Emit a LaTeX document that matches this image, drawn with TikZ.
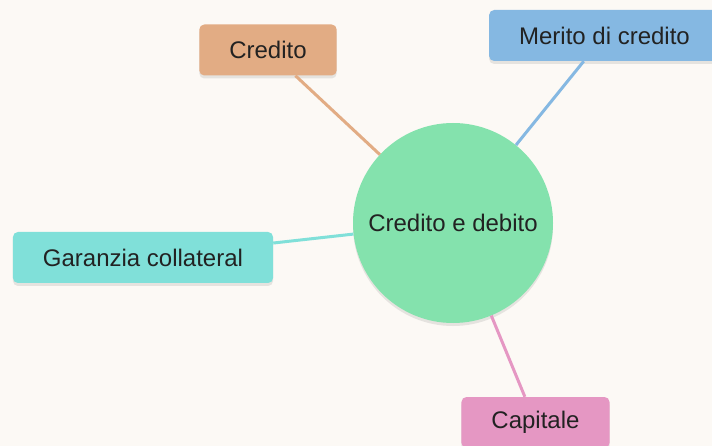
\documentclass[tikz,border=0pt]{standalone}
\usepackage{fontspec}
\setmainfont{Liberation Sans}
\usetikzlibrary{shadows}

\definecolor{bgcol}{HTML}{FCF9F5}
\definecolor{textcol}{HTML}{222222}
\definecolor{hubcol}{HTML}{84E2AD}
\definecolor{credcol}{HTML}{E2AC84}
\definecolor{meritcol}{HTML}{85B8E2}
\definecolor{garcol}{HTML}{80E0D9}
\definecolor{capcol}{HTML}{E597C3}

\begin{document}
\begin{tikzpicture}[
        x=1pt, y=-1pt,
        every node/.style={text=textcol, font=\fontsize{24}{28}\selectfont},
        hub/.style={circle, fill=hubcol, minimum size=200pt, inner sep=0pt,
            drop shadow={opacity=0.18, shadow xshift=0pt, shadow yshift=-3pt}},
        leaf/.style={rectangle, rounded corners=5pt, minimum height=51pt,
            inner xsep=30pt, inner ysep=0pt,
            drop shadow={opacity=0.18, shadow xshift=0pt, shadow yshift=-3pt}},
        link/.style={line width=3pt}
      ]
        \fill[bgcol] (0,0) rectangle (712,446);
        \useasboundingbox (0,0) rectangle (712,446);

        \node[hub] (debito) at (453,223) {Credito e debito};

        \node[leaf, fill=credcol] (credito) at (268,50) {Credito};
        \node[leaf, fill=meritcol] (merito) at (604.5,35.5) {Merito di credito};
        \node[leaf, fill=garcol] (garanzia) at (143,257.5) {Garanzia collateral};
        \node[leaf, fill=capcol] (capitale) at (535.5,422.5) {Capitale};

        % Links from the hub to the leaves
        \draw[link, credcol] (credito) -- (debito);
        \draw[link, meritcol] (merito) -- (debito);
        \draw[link, garcol] (garanzia) -- (debito);
        \draw[link, capcol] (capitale) -- (debito);

    \end{tikzpicture}
\end{document}
